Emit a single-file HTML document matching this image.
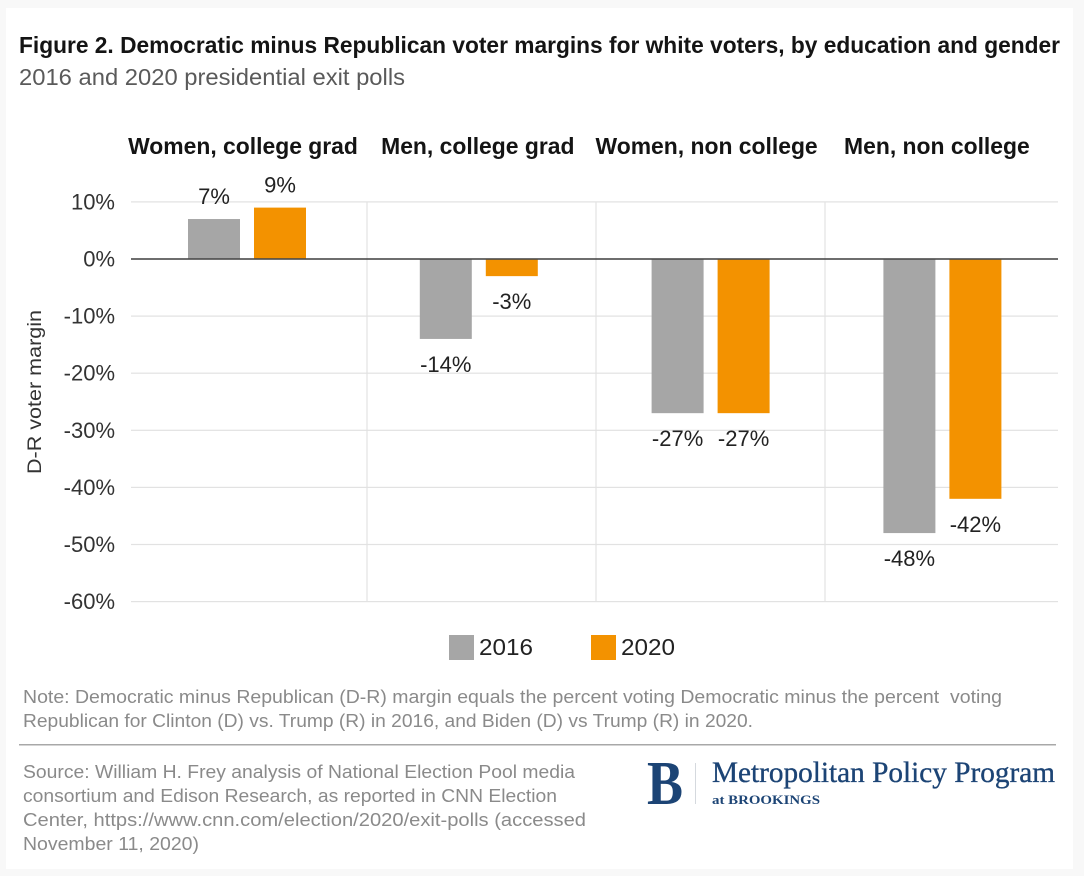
<!DOCTYPE html>
<html lang="en">
<head>
<meta charset="utf-8">
<title>Figure 2</title>
<style>
html,body{margin:0;padding:0;background:#f8f8f8;width:1084px;height:876px;overflow:hidden}
svg{display:block;font-family:"Liberation Sans",sans-serif;filter:blur(.35px)}
text{white-space:pre}
</style>
</head>
<body>
<svg id="chart" width="1084" height="876" viewBox="0 0 1084 876" xmlns="http://www.w3.org/2000/svg">
  <rect x="6" y="8" width="1067" height="861" fill="#ffffff"/>
  <text x="19" y="53" font-size="23" font-weight="700" fill="#141414" textLength="1041" lengthAdjust="spacingAndGlyphs">Figure 2. Democratic minus Republican voter margins for white voters, by education and gender</text>
  <text x="19" y="85" font-size="23" fill="#5a5a5a" textLength="386" lengthAdjust="spacingAndGlyphs">2016 and 2020 presidential exit polls</text>

  <g id="plot"></g>

  <text transform="translate(41,392) rotate(-90)" text-anchor="middle" font-size="19" fill="#333" textLength="164" lengthAdjust="spacingAndGlyphs">D-R voter margin</text>

  <g>
    <rect x="449" y="635" width="25" height="25" fill="#a6a6a6"/>
    <text x="479" y="655" font-size="23" fill="#222" textLength="54" lengthAdjust="spacingAndGlyphs">2016</text>
    <rect x="591" y="635" width="25" height="25" fill="#f39200"/>
    <text x="621" y="655" font-size="23" fill="#222" textLength="54" lengthAdjust="spacingAndGlyphs">2020</text>
  </g>

  <g font-size="18" fill="#8a8a8a">
    <text x="23" y="703" textLength="979" lengthAdjust="spacingAndGlyphs">Note: Democratic minus Republican (D-R) margin equals the percent voting Democratic minus the percent  voting</text>
    <text x="23" y="727" textLength="730" lengthAdjust="spacingAndGlyphs">Republican for Clinton (D) vs. Trump (R) in 2016, and Biden (D) vs Trump (R) in 2020.</text>
  </g>
  <rect x="19" y="744" width="1037" height="1.5" fill="#a8a8a8"/>
  <g font-size="18" fill="#8a8a8a">
    <text x="23" y="778" textLength="552" lengthAdjust="spacingAndGlyphs">Source: William H. Frey analysis of National Election Pool media</text>
    <text x="23" y="802" textLength="534" lengthAdjust="spacingAndGlyphs">consortium and Edison Research, as reported in CNN Election</text>
    <text x="23" y="826" textLength="563" lengthAdjust="spacingAndGlyphs">Center, https://www.cnn.com/election/2020/exit-polls (accessed</text>
    <text x="23" y="850" textLength="176" lengthAdjust="spacingAndGlyphs">November 11, 2020)</text>
  </g>

  <g font-family="'Liberation Serif',serif" fill="#1c4475">
    <text x="647" y="804" font-size="62" font-weight="700" textLength="36" lengthAdjust="spacingAndGlyphs">B</text>
    <rect x="695" y="763" width="1" height="41" fill="#d5d9de"/>
    <text x="712" y="782" font-size="30" stroke="#1c4475" stroke-width="0.35" textLength="343" lengthAdjust="spacingAndGlyphs">Metropolitan Policy Program</text>
    <text x="712" y="804" font-size="13" font-weight="700" textLength="108" lengthAdjust="spacingAndGlyphs">at BROOKINGS</text>
  </g>
</svg>
<script>
const categories = ["Women, college grad", "Men, college grad", "Women, non college", "Men, non college"];
const values2016 = [7, -14, -27, -48];
const values2020 = [9, -3, -27, -42];
const tickValues = [10, 0, -10, -20, -30, -40, -50, -60];
const tickLabels = ["10%", "0%", "-10%", "-20%", "-30%", "-40%", "-50%", "-60%"];

const NS = "http://www.w3.org/2000/svg";
const plot = document.getElementById("plot");
const plotLeft = 131, plotRight = 1058;
const barWidth = 52, barOffset = 33;

function yScale(v) { return 259 - v * 5.71; }
function panelCenter(i) { return 247 + i * 231.8; }
function dividerX(i) { return 367 + (i - 1) * 229; }

function make(tag, attrs, text) {
  const el = document.createElementNS(NS, tag);
  for (const k in attrs) el.setAttribute(k, attrs[k]);
  if (text !== undefined) el.textContent = text;
  plot.appendChild(el);
  return el;
}

tickValues.forEach(function (v, i) {
  if (v === 0) return;
  const line = make("rect", { x: plotLeft, y: yScale(v) - 0.6, width: plotRight - plotLeft, height: 1.2, fill: "#e2e2e2" });
  
  
});

categories.forEach(function (c, i) {
  if (i === 0) return;
  const divider = make("rect", { x: dividerX(i) - 0.6, y: yScale(tickValues[0]), width: 1.2, height: yScale(tickValues[tickValues.length - 1]) - yScale(tickValues[0]), fill: "#e2e2e2" });
  
  
});

tickValues.forEach(function (v, i) {
  const label = make("text", { x: 115, y: yScale(v) + 7.5, "text-anchor": "end", "font-size": 22, fill: "#333" }, tickLabels[i]);
  
  
});

function drawBar(value, cx, color) {
  const top = yScale(Math.max(value, 0));
  const bottom = yScale(Math.min(value, 0));
  const bar = make("rect", { x: cx - barWidth / 2, y: top, width: barWidth, height: bottom - top, fill: color });
  
  
  const labelY = value >= 0 ? top - 15 : bottom + 33;
  const label = make("text", { x: cx, y: labelY, "text-anchor": "middle", "font-size": 22, fill: "#222" }, value + "%");
  
  
}

categories.forEach(function (c, i) {
  const center = panelCenter(i);
  const titleNudge = [-4, -1, -4, -5.5][i];
  const title = make("text", { x: center + titleNudge, y: 154, "text-anchor": "middle", "font-size": 22.9, "font-weight": 700, fill: "#141414" }, c);
  
  
  drawBar(values2016[i], center - barOffset, "#a6a6a6");
  drawBar(values2020[i], center + barOffset, "#f39200");
});

const zero = make("rect", { x: plotLeft, y: yScale(0) - 0.8, width: plotRight - plotLeft, height: 1.6, fill: "#4a4a4a" });


</script>
</body>
</html>
